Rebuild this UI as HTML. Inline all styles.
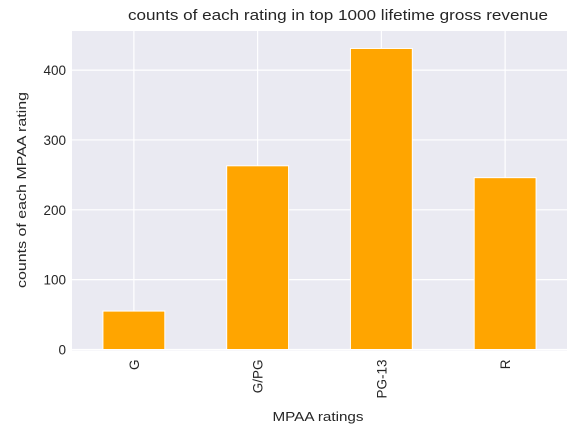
<!DOCTYPE html>
<html><head><meta charset="utf-8"><style>
body{margin:0;background:#fff;}
svg{display:block;font-family:"Liberation Sans",Arial,sans-serif;}
</style></head><body>
<svg id="chart" width="574" height="432">
<text x="338" y="20" text-anchor="middle" font-size="14.5" fill="#262626" textLength="420" lengthAdjust="spacingAndGlyphs">counts of each rating in top 1000 lifetime gross revenue</text>
<text x="318" y="421" text-anchor="middle" font-size="13" fill="#262626" textLength="91" lengthAdjust="spacingAndGlyphs">MPAA ratings</text>
<text transform="translate(26,190) rotate(-90)" text-anchor="middle" font-size="13" fill="#262626" textLength="196" lengthAdjust="spacingAndGlyphs">counts of each MPAA rating</text>
</svg>
<script>
const categories = ["G","G/PG","PG-13","R"];
const counts = [55, 263, 431, 246];
const yTicks = [0,100,200,300,400];
const NS="http://www.w3.org/2000/svg";
const svg=document.getElementById('chart');
const L=72,R=567,T=31,B=349.5,YMAX=456;
const step=(R-L)/categories.length;
const xC=i=>L+step*(i+0.5);
const y=v=>B-(B-T)*v/YMAX;
function mk(t,a){const e=document.createElementNS(NS,t);for(const k in a)e.setAttribute(k,a[k]);svg.appendChild(e);return e;}
const bg=mk('rect',{x:L,y:T,width:R-L,height:B-T+1,fill:'#eaeaf2'});


yTicks.forEach(v=>{
  const g=mk('line',{x1:L,x2:R,y1:y(v),y2:y(v),stroke:'#fff','stroke-width':1.2});
  
  
  const t=mk('text',{x:L-6,y:y(v)+5,'text-anchor':'end','font-size':13.5,fill:'#262626'});
  t.textContent=v;
  
  
});
categories.forEach((c,i)=>{
  const g=mk('line',{x1:xC(i),x2:xC(i),y1:T,y2:B,stroke:'#fff','stroke-width':1.2});
  
  
});
categories.forEach((c,i)=>{
  const w=step*0.5;
  const b=mk('rect',{x:xC(i)-w/2,y:y(counts[i]),width:w,height:B-y(counts[i]),fill:'#ffa500',stroke:'#fff','stroke-width':1});
  
  
  const t=mk('text',{transform:`translate(${xC(i)+5},${B+10}) rotate(-90)`,'text-anchor':'end','font-size':13.5,fill:'#262626'});
  t.textContent=c;
  
  
});
</script>
</body></html>
